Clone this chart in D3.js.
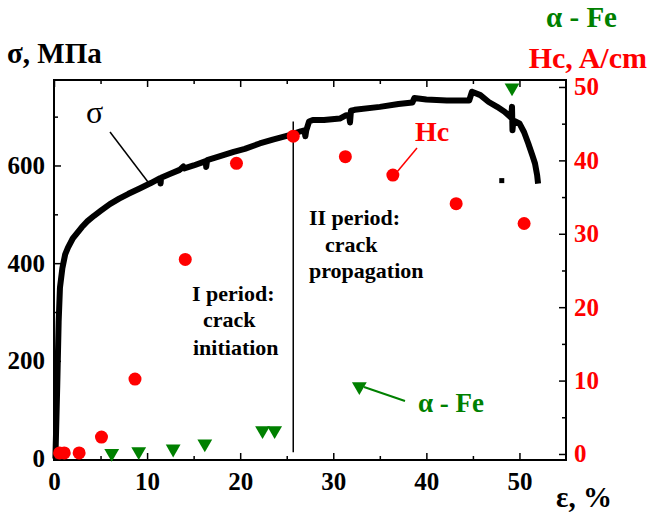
<!DOCTYPE html>
<html><head><meta charset="utf-8">
<script src="https://cdn.jsdelivr.net/npm/d3@7"></script>
<style>
html,body{margin:0;padding:0;background:#fff;}
svg{display:block;}
</style></head>
<body><svg id="chart" width="648" height="512"></svg>
<script>
// ---- data ----
const sigmaStrain = [0.15,0.35,0.5,0.64,0.9,1.2,1.5,2.0,2.5,3.0,3.6,4.3,5.0,6.0,7.0,8.0,9.2,10.4,11.4,11.45,11.5,12.5,13.5,13.9,14.0,15.0,16.3,16.35,16.45,17.5,19.3,20.5,22.1,23.5,25.3,26.5,26.9,27.0,27.1,27.4,27.8,29.0,30.7,31.4,31.7,31.8,31.9,32.3,35.0,37.0,38.5,38.7,40.0,42.2,44.6,44.9,45.8,46.7,47.6,48.4,49.0,49.1,49.2,49.25,49.35,50.0,50.5,50.95,51.4,51.67,51.9,52.0];
const sigmaStress = [0,150,280,350,390,418,432,450,462,474,486,497,507,521,532,542,553,564,574,563,575,583,591,598,594,600,609,597,611,617,628,634,645,653,662,670,672,660,672,690,693,693,696,703,703,688,712,714,720,726,729,738,735,733,733,751,744,730,720,710,700,698,720,672,692,686,668,645,620,604,580,563];
const strayStrain = [48.1];
const strayStress = [569];

const hcStrain = [0.6,1.1,2.7,5.1,8.7,14.1,19.6,25.7,31.3,36.4,43.2,50.5];
const hcValue  = [0.15,0.15,0.15,2.3,10.2,26.5,39.6,43.3,40.5,38.0,34.1,31.4];

const feStrain = [6.2,9.1,12.8,16.2,22.4,23.7,32.8,49.2];
const feValue  = [0.1,0.35,0.7,1.4,3.2,3.2,9.2,49.9];

const boundaryStrain = 25.7;
const boundaryStress = [13,690];

const xTicks = [0,10,20,30,40,50];
const xMinor = [5,15,25,35,45];
const yTicks = [0,200,400,600];
const yMinor = [100,300,500,700];
const y2Ticks = [0,10,20,30,40,50];
const y2Minor = [5,15,25,35,45];

// ---- layout ----
const L = 54, R = 566, T = 80, B = 460;
const svg = d3.select("#chart");
const x = d3.scaleLinear().domain([0,55]).range([L,R]);
const y = d3.scaleLinear().domain([-3,775]).range([B,T]);
const y2 = d3.scaleLinear().domain([-0.82,50.95]).range([B,T]);
const RED = "#ff0000", GREEN = "#008000";

function styleAxis(g, color){
  g.select(".domain").remove();
  g.selectAll(".tick line").attr("stroke","#000").attr("stroke-width",1.5);
  g.selectAll("text").attr("font-size",25).attr("fill",color||"#000");
}
// bottom
svg.append("g").attr("transform",`translate(0,${B})`)
  .call(d3.axisBottom(x).tickValues(xTicks).tickSizeInner(-7).tickSizeOuter(0).tickPadding(12))
  .call(g=>styleAxis(g));
svg.append("g").attr("transform",`translate(0,${B})`)
  .call(d3.axisBottom(x).tickValues(xMinor).tickSizeInner(-4).tickSizeOuter(0).tickFormat(""))
  .call(g=>styleAxis(g));
// top
svg.append("g").attr("transform",`translate(0,${T})`)
  .call(d3.axisTop(x).tickValues(xTicks).tickSizeInner(-7).tickSizeOuter(0).tickFormat(""))
  .call(g=>styleAxis(g));
svg.append("g").attr("transform",`translate(0,${T})`)
  .call(d3.axisTop(x).tickValues(xMinor).tickSizeInner(-4).tickSizeOuter(0).tickFormat(""))
  .call(g=>styleAxis(g));
// left
svg.append("g").attr("transform",`translate(${L},0)`)
  .call(d3.axisLeft(y).tickValues(yTicks).tickSizeInner(-7).tickSizeOuter(0).tickPadding(9))
  .call(g=>styleAxis(g));
svg.append("g").attr("transform",`translate(${L},0)`)
  .call(d3.axisLeft(y).tickValues(yMinor).tickSizeInner(-4).tickSizeOuter(0).tickFormat(""))
  .call(g=>styleAxis(g));
// right
svg.append("g").attr("transform",`translate(${R},0)`)
  .call(d3.axisRight(y2).tickValues(y2Ticks).tickSizeInner(-7).tickSizeOuter(0).tickPadding(8))
  .call(g=>styleAxis(g,RED));
svg.append("g").attr("transform",`translate(${R},0)`)
  .call(d3.axisRight(y2).tickValues(y2Minor).tickSizeInner(-4).tickSizeOuter(0).tickFormat(""))
  .call(g=>styleAxis(g));

// frame
svg.append("rect").attr("x",L).attr("y",T).attr("width",R-L).attr("height",B-T)
  .attr("fill","none").attr("stroke","#000").attr("stroke-width",2);

// boundary line
svg.append("line")
  .attr("x1",x(boundaryStrain)).attr("x2",x(boundaryStrain))
  .attr("y1",y(boundaryStress[0])).attr("y2",y(boundaryStress[1]))
  .attr("stroke","#000").attr("stroke-width",1.5);

// sigma curve
const sigmaData = sigmaStrain.map((e,i)=>[e,sigmaStress[i]]);
svg.append("path").datum(sigmaData)
  .attr("d",d3.line().x(d=>x(d[0])).y(d=>y(d[1])))
  .attr("fill","none").attr("stroke","#000").attr("stroke-width",6)
  .attr("stroke-linejoin","round");
svg.selectAll(".stray").data(strayStrain.map((e,i)=>[e,strayStress[i]])).join("rect")
  .attr("x",d=>x(d[0])-2.5).attr("y",d=>y(d[1])-2.5).attr("width",5).attr("height",5).attr("fill","#000");

// Hc points
svg.selectAll(".hc").data(hcStrain.map((e,i)=>[e,hcValue[i]])).join("circle")
  .attr("cx",d=>x(d[0])).attr("cy",d=>y2(d[1])).attr("r",6.5).attr("fill",RED);

// alpha-Fe triangles
const tri = d3.symbol().type(d3.symbolTriangle).size(95);
svg.selectAll(".fe").data(feStrain.map((e,i)=>[e,feValue[i]])).join("path")
  .attr("d",tri).attr("transform",d=>`translate(${x(d[0])},${y2(d[1])}) rotate(180)`)
  .attr("fill",GREEN);

// annotations
svg.append("text").attr("class","sig").attr("x",86).attr("y",123).attr("font-size",32).text("σ");
svg.append("line").attr("x1",110).attr("y1",132).attr("x2",148).attr("y2",182).attr("stroke","#000").attr("stroke-width",1.5);

svg.append("text").attr("x",415).attr("y",141).attr("font-size",28).attr("fill",RED).text("Hc");
svg.append("line").attr("x1",417).attr("y1",148).attr("x2",397).attr("y2",172).attr("stroke",RED).attr("stroke-width",1.5);

svg.append("text").attr("x",418).attr("y",412).attr("font-size",27).attr("fill",GREEN).text("α - Fe");
svg.append("line").attr("x1",405).attr("y1",401).attr("x2",364).attr("y2",387).attr("stroke",GREEN).attr("stroke-width",2);

const t1 = [["I period:",192,301],["crack",203,327],["initiation",193,355]];
const t2 = [["II period:",309,225],["crack",325,252],["propagation",309,278]];
svg.selectAll(".t1").data(t1.concat(t2)).join("text")
  .attr("x",d=>d[1]).attr("y",d=>d[2]).attr("font-size",22).text(d=>d[0]);

// axis titles
svg.append("text").attr("x",7).attr("y",63).attr("font-size",29).text("σ, MПa");
svg.append("text").attr("x",617).attr("y",27).attr("text-anchor","end").attr("font-size",29).attr("fill",GREEN).text("α - Fe");
svg.append("text").attr("x",647).attr("y",68).attr("text-anchor","end").attr("font-size",30).attr("fill",RED).text("Hc, A/cm");
svg.append("text").attr("x",556).attr("y",507).attr("font-size",29).text("ε, %");

svg.selectAll("text").style("font-family","'Liberation Serif'").style("font-weight","bold");
svg.selectAll("text.sig").style("font-weight","normal");
</script></body></html>
